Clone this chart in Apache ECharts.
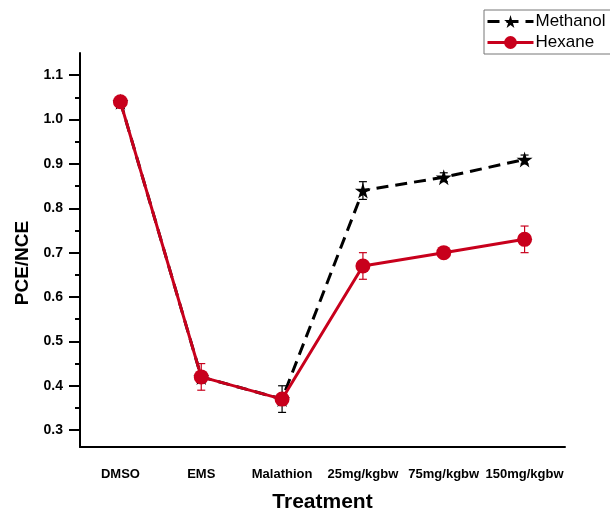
<!DOCTYPE html>
<html>
<head>
<meta charset="utf-8">
<script src="https://cdn.jsdelivr.net/npm/echarts@6/dist/echarts.min.js"></script>
<style>
  html, body { margin: 0; padding: 0; background: #fff; }
  #chart { width: 610px; height: 511px; }
</style>
</head>
<body>
<div id="chart"></div>
<script>
// treatments on the x axis
const treatments = ['DMSO', 'EMS', 'Malathion', '25mg/kgbw', '75mg/kgbw', '150mg/kgbw'];

// PCE/NCE values
const methanol = [1.04, 0.42, 0.37, 0.84, 0.87, 0.91];
const hexane = [1.04, 0.42, 0.37, 0.67, 0.70, 0.73];

// error bar half-heights (null = none visible)
const methanolErr = [null, null, 0.03, 0.02, 0.01, 0.01];
const hexaneErr = [0.01, 0.03, null, 0.03, 0.01, 0.03];

const yMajor = [0.3, 0.4, 0.5, 0.6, 0.7, 0.8, 0.9, 1.0, 1.1];
const yMinor = [0.35, 0.45, 0.55, 0.65, 0.75, 0.85, 0.95, 1.05];

const RED = '#c8001c';
const STAR = 'path://M50,0 L61,35 L98,35 L68,57 L79,91 L50,70 L21,91 L32,57 L2,35 L39,35 Z';
const FONT = '"Liberation Sans", Arial, sans-serif';

function errData(vals, errs) {
  const out = [];
  vals.forEach((v, i) => {
    if (errs[i] != null) out.push([i, v, errs[i]]);
  });
  return out;
}

function errRender(color) {
  return function (params, api) {
    const i = api.value(0), v = api.value(1), e = api.value(2);
    const top = api.coord([i, v + e]);
    const bot = api.coord([i, v - e]);
    const w = 4;
    const style = { stroke: color, lineWidth: 1.2 };
    return {
      type: 'group',
      children: [
        { type: 'line', shape: { x1: top[0], y1: top[1], x2: bot[0], y2: bot[1] }, style },
        { type: 'line', shape: { x1: top[0] - w, y1: top[1], x2: top[0] + w, y2: top[1] }, style },
        { type: 'line', shape: { x1: bot[0] - w, y1: bot[1], x2: bot[0] + w, y2: bot[1] }, style }
      ]
    };
  };
}

const chart = echarts.init(document.getElementById('chart'));

chart.setOption({
  backgroundColor: '#fff',
  animation: false,
  textStyle: { fontFamily: FONT },
  grid: { left: 80, right: 45, top: 53, bottom: 64, outerBoundsMode: 'none', containLabel: false },
  legend: {
    left: 484,
    top: 10,
    orient: 'vertical',
    itemWidth: 46,
    itemHeight: 16,
    itemGap: 4,
    padding: [3, 20, 3, 2],
    borderColor: '#777',
    borderWidth: 1,
    lineStyle: { width: 3 },
    textStyle: { fontSize: 17, color: '#000', fontFamily: FONT, padding: [0, 0, 0, -3] },
    data: ['Methanol', 'Hexane']
  },
  xAxis: [
    {
      type: 'category',
      data: treatments,
      name: 'Treatment',
      nameLocation: 'middle',
      nameGap: 45,
      nameTextStyle: { fontSize: 21, fontWeight: 'bold', color: '#000' },
      axisLine: { lineStyle: { color: '#000', width: 2 } },
      axisTick: { alignWithLabel: true, length: 8, lineStyle: { color: '#000', width: 2 } },
      axisLabel: { interval: 0, fontSize: 13, fontWeight: 'bold', color: '#000', margin: 21 },
      splitLine: { show: false }
    },
    {
      type: 'category',
      data: treatments,
      position: 'bottom',
      axisLine: { show: false },
      axisTick: { length: 5, lineStyle: { color: '#000', width: 2 } },
      axisLabel: { show: false },
      splitLine: { show: false }
    }
  ],
  yAxis: [
    {
      type: 'value',
      min: 0.262,
      max: 1.15,
      name: 'PCE/NCE',
      nameLocation: 'middle',
      nameGap: 47,
      nameTextStyle: { fontSize: 19, fontWeight: 'bold', color: '#000', padding: [0, 26, 0, 0] },
      axisLine: { show: true, lineStyle: { color: '#000', width: 2 } },
      axisTick: { show: true, length: 11, customValues: yMajor, lineStyle: { color: '#000', width: 2 } },
      axisLabel: {
        customValues: yMajor,
        fontSize: 14, fontWeight: 'bold', color: '#000', margin: 17,
        formatter: v => v.toFixed(1)
      },
      splitLine: { show: false }
    },
    {
      type: 'value',
      min: 0.262,
      max: 1.15,
      position: 'left',
      axisLine: { show: false },
      axisTick: { show: true, length: 5, customValues: yMinor, lineStyle: { color: '#000', width: 2 } },
      axisLabel: { show: false },
      splitLine: { show: false }
    }
  ],
  series: [
    {
      name: 'Methanol',
      type: 'line',
      data: methanol,
      z: 2,
      symbol: STAR,
      symbolSize: 16,
      itemStyle: { color: '#000' },
      lineStyle: { color: '#000', width: 3, type: [12, 7] }
    },
    {
      name: 'Hexane err',
      type: 'custom',
      z: 3,
      data: errData(hexane, hexaneErr),
      encode: { x: 0, y: 1 },
      renderItem: errRender(RED)
    },
    {
      name: 'Methanol err',
      type: 'custom',
      z: 4,
      data: errData(methanol, methanolErr),
      encode: { x: 0, y: 1 },
      renderItem: errRender('#000')
    },
    {
      name: 'Hexane',
      type: 'line',
      data: hexane,
      z: 5,
      symbol: 'circle',
      symbolSize: 15,
      itemStyle: { color: RED },
      lineStyle: { color: RED, width: 3 }
    }
  ]
});
</script>
</body>
</html>
